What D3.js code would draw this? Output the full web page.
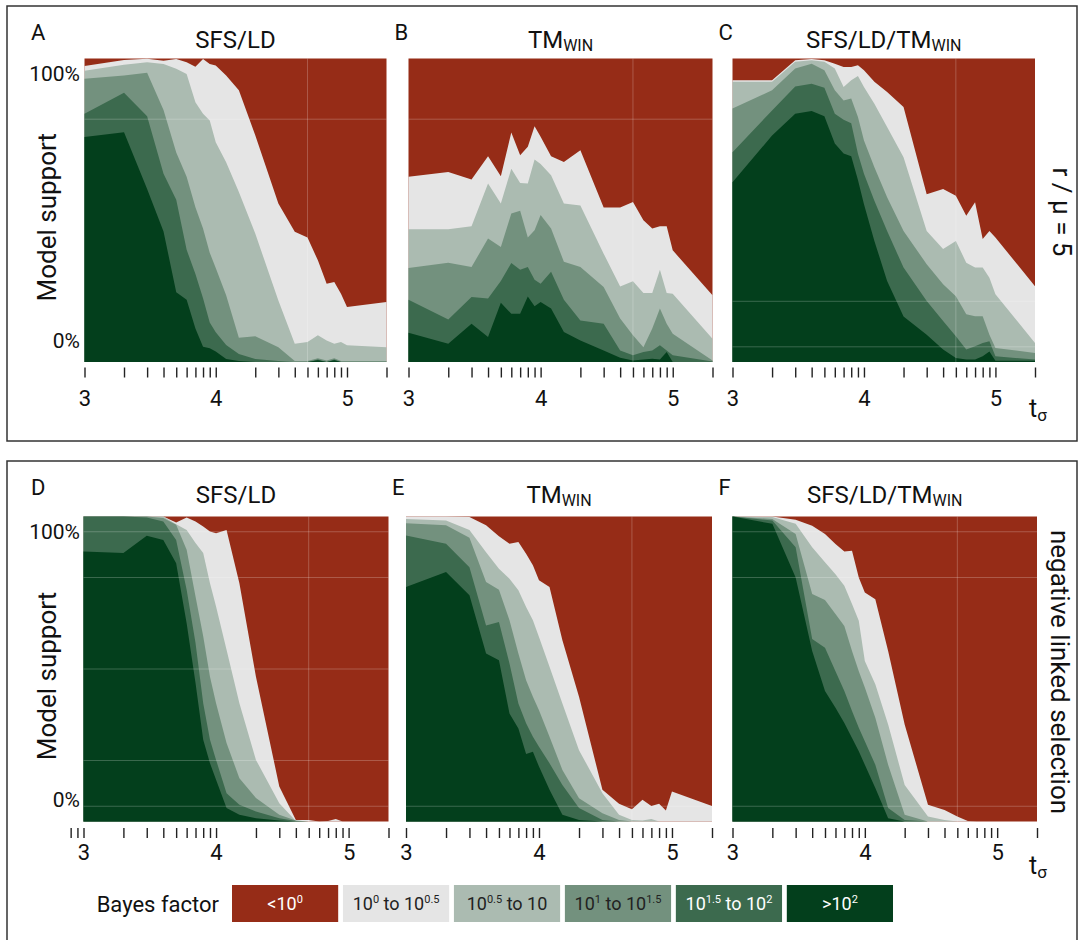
<!DOCTYPE html>
<html>
<head>
<meta charset="utf-8">
<script src="https://cdn.jsdelivr.net/npm/d3@7"></script>
<style>
  body { margin: 0; background: #fff; }
  svg { display: block; font-family: Roboto, "Noto Sans", sans-serif; }
</style>
</head>
<body>
<div id="chart"></div>
<script>
// t_sigma values where the model support was evaluated
const tSigma = [1000, 2000, 3000, 4000, 5000, 6000, 7000, 8000, 9000, 10000, 12000, 15000,
  20000, 30000, 40000, 50000, 60000, 70000, 80000, 90000, 100000, 200000];

// log ticks and the decade labels (log10 t_sigma)
const tickVals = [1000, 2000, 3000, 4000, 5000, 6000, 7000, 8000, 9000,
  10000, 20000, 30000, 40000, 50000, 60000, 70000, 80000, 90000, 100000, 200000];
const labelVals = [1000, 10000, 100000];
const labelText = ["3", "4", "5"];

// Bayes factor classes, bottom of the stack first
const bayesClasses = [">10^{2}", "10^{1.5} to 10^{2}", "10^{1} to 10^{1.5}", "10^{0.5} to 10", "10^{0} to 10^{0.5}", "<10^{0}"];
const classColors = ["#033f1c", "#3c6a4e", "#73917e", "#abbbb1", "#e5e5e5", "#962c17"];
const classText = ["#fff", "#fff", "#222", "#222", "#222", "#fff"];

// cumulative model support (%) : tops of >10^2, 10^1.5-10^2, 10^1-10^1.5, 10^0.5-10, 10^0-10^0.5
// (remaining share up to 100% is <10^0)
const supportA = [
  [74.1, 75.7, 57, 43, 23, 20.5, 11, 5, 4.5, 3.5, 1, 0.3, 0, 0, 0, 0, 0.6, 0, 0.6, 0, 0, 0],
  [81.8, 88.7, 81, 62, 53.5, 37, 29, 21, 13, 9.8, 5.6, 2.6, 1, 0.3, 0, 0, 0.8, 0, 0.8, 0, 0, 0],
  [93.3, 94.4, 95.3, 83, 69, 61, 51, 44, 36, 31, 22, 8, 8.5, 4.9, 0.3, 0.3, 1.2, 0.5, 1.2, 0.3, 0.3, 0.3],
  [96.0, 97.9, 98.8, 98.2, 96.6, 94.9, 85.6, 81.8, 79.6, 72.4, 65.8, 56, 42.3, 20.3, 6.0, 6.6, 8.8, 7.1, 6.0, 6.6, 5.5, 4.9],
  [97.5, 99.5, 99.9, 99.3, 99.8, 98.8, 97.3, 99.8, 98.2, 97.7, 94.4, 89.5, 74.7, 52.2, 42.9, 41.0, 33.5, 25.8, 26.4, 22.5, 18.1, 19.8]
];
const supportB = [
  [9.6, 6.0, 12.6, 8.2, 19.5, 15.9, 15.9, 21.6, 18.4, 19.8, 17.6, 9.9, 7.1, 3.8, 1.4, 0.5, 0.8, 1.1, 0.8, 3.3, 0, 0],
  [20.5, 14.0, 21.4, 20.9, 26.7, 32.6, 30.4, 31.3, 27.1, 25.8, 29.7, 20.5, 13.7, 12.6, 3.8, 2.2, 3.3, 3.8, 5.5, 3.8, 2.2, 0.2],
  [31.0, 32.7, 31.3, 40.7, 37.9, 48.9, 49.8, 41.0, 43.4, 48.4, 44.0, 33.0, 31.3, 24.7, 14.3, 8.8, 4.9, 11.0, 17.6, 12.6, 9.3, 0.5],
  [43.7, 43.7, 44.7, 58.8, 52.2, 63.7, 59.0, 58.8, 66.7, 65.2, 61.5, 52.2, 51.6, 35.7, 24.9, 26.6, 22.7, 22.7, 30.4, 22.7, 22.5, 7.7],
  [61.0, 62.6, 60.1, 67.8, 61.2, 75.6, 68.1, 70.9, 77.7, 74.2, 67.8, 65.9, 69.8, 50.9, 50.9, 52.7, 46.7, 44.0, 44.7, 44.7, 36.8, 22.0]
];
const supportC = [
  [59.2, 74.6, 81.8, 82.7, 81, 72, 68.7, 67.8, 60, 52, 39.9, 26.7, 15.0, 9.0, 4.1, 1.3, 0.8, 0.8, 1.9, 3.5, 0.4, 0.4],
  [69.1, 82.9, 90.8, 91.7, 90.4, 81.8, 79.8, 78.7, 68.6, 62.0, 53.1, 43.2, 31.1, 20.1, 13.5, 8.5, 4.1, 5.2, 6.3, 6.8, 1.9, 0.8],
  [83.5, 89.5, 96.7, 98.3, 96.1, 89.5, 86.2, 86.8, 80.7, 73.0, 64.2, 54.3, 43.2, 32.2, 25.6, 21.7, 15.7, 15.1, 15.1, 9.0, 4.6, 3.0],
  [92.3, 92.3, 98.9, 99.4, 98.9, 96.7, 90.6, 92.8, 94.2, 90.6, 85.1, 77.4, 67.5, 43.2, 37.2, 39.9, 32.7, 31.1, 31.1, 27.8, 22.3, 6.3],
  [92.8, 92.8, 99.4, 99.8, 99.4, 98.3, 97.2, 97.2, 97.8, 96.1, 92.3, 89.0, 84.0, 55.3, 57.0, 54.8, 48.2, 52.6, 40.5, 43.2, 41.0, 25.0]
];
const supportD = [
  [88.5, 88.0, 93.7, 92.3, 84.7, 65.0, 45.4, 26.8, 19.1, 13.7, 4.4, 2.2, 1.1, 0.3, 0, 0, 0, 0, 0, 0, 0, 0],
  [100, 100, 99.7, 98.4, 92.3, 76.0, 58.5, 38.8, 26.8, 20.2, 9.3, 5.5, 3.3, 1.1, 0.2, 0, 0, 0, 0, 0, 0, 0],
  [100, 100, 100, 99.5, 97.3, 89.1, 73.8, 60.7, 47.5, 38.8, 25.7, 14.2, 7.7, 2.2, 0.3, 0, 0, 0, 0, 0, 0, 0],
  [100, 100, 100, 100, 97.5, 95.6, 91.3, 88.0, 78.1, 70.5, 56.3, 38.8, 20.2, 6.0, 0.2, 0, 0, 0, 0, 0, 0, 0],
  [100, 100, 100, 100, 98.0, 99.7, 98.4, 96.7, 95.1, 94.5, 95.6, 78.1, 47.5, 11.5, 0.5, 0.5, 0, 0.2, 0.8, 0, 0, 0]
];
const supportE = [
  [76.9, 81.8, 74.2, 55.1, 52.9, 35.4, 30.5, 22.1, 22.9, 18.0, 10.4, 2.2, 0.5, 0, 0, 0, 0, 0, 0, 0, 0, 0],
  [93.8, 91.1, 83.4, 64.3, 65.4, 51.8, 38.7, 32.2, 27.8, 24.5, 19.1, 12.0, 4.4, 0.5, 0, 0, 0, 0, 0, 0, 0, 0],
  [97.8, 97.1, 93.0, 78.5, 76.0, 66.0, 55.1, 46.3, 40.9, 36.5, 27.8, 16.9, 7.6, 2.7, 0.5, 0, 0, 0, 0, 0, 0, 0],
  [99.2, 98.7, 95.6, 88.3, 82.9, 79.6, 75.8, 70.3, 66.0, 60.5, 50.7, 38.7, 23.4, 9.3, 2.2, 0.5, 0.3, 0.8, 0, 0, 0, 0],
  [100, 100, 99.8, 97.1, 93.5, 91.1, 91.6, 87.8, 84.0, 79.1, 76.9, 59.4, 40.9, 10.4, 5.8, 4.0, 7.1, 5.1, 5.8, 3.6, 9.8, 5.1]
];
const supportF = [
  [100, 97.6, 80.0, 55.9, 42.8, 37.3, 32.3, 27.4, 23.0, 18.6, 11.0, 1.1, 0, 0, 0, 0, 0, 0, 0, 0, 0, 0],
  [100, 98.7, 89.9, 59.8, 57.0, 49.3, 42.8, 36.2, 30.7, 26.3, 18.6, 4.4, 0.5, 0, 0, 0, 0, 0, 0, 0, 0, 0],
  [100, 99.2, 94.3, 74.6, 72.6, 68.0, 64.1, 55.9, 49.3, 43.9, 34.0, 18.6, 2.2, 0, 0, 0, 0, 0, 0, 0, 0, 0],
  [100, 99.8, 97.6, 89.9, 85.0, 81.1, 77.3, 71.3, 65.8, 52.6, 45.0, 31.8, 12.0, 1.6, 0.5, 0, 0, 0, 0, 0, 0, 0],
  [100, 100, 98.9, 97.0, 94.3, 91.0, 88.5, 88.8, 80.0, 75.1, 72.9, 55.9, 31.8, 5.5, 3.8, 1.6, 0.2, 0, 0, 0, 0, 0]
];

// faint grid lines that show through each panel (% support)
const gridA = [80], gridB = [80], gridC = [5, 20], gridD = [5, 20, 50, 80, 95], gridE = [5], gridF = [5, 80, 95];

const width = 1080, height = 940;
const svg = d3.select("#chart").append("svg")
  .attr("width", width)
  .attr("height", height);

// frames around the two rows
svg.append("rect").attr("x", 7).attr("y", 6).attr("width", 1070).attr("height", 435)
  .attr("fill", "none").attr("stroke", "#333").attr("stroke-width", 1.5);
svg.append("rect").attr("x", 7).attr("y", 461).attr("width", 1070).attr("height", 500)
  .attr("fill", "none").attr("stroke", "#333").attr("stroke-width", 1.5);

const panels = [
  { letter: "A", title: ["SFS/LD", ""], data: supportA, grid: gridA, x: 84.5, y: 58.5, w: 302, h: 303.5, row: 0 },
  { letter: "B", title: ["TM", "WIN"], data: supportB, grid: gridB, x: 408.5, y: 58.5, w: 304, h: 303.5, row: 0 },
  { letter: "C", title: ["SFS/LD/TM", "WIN"], data: supportC, grid: gridC, x: 732.5, y: 58.5, w: 302.5, h: 303.5, row: 0 },
  { letter: "D", title: ["SFS/LD", ""], data: supportD, grid: gridD, x: 83.5, y: 516.5, w: 305, h: 305, row: 1 },
  { letter: "E", title: ["TM", "WIN"], data: supportE, grid: gridE, x: 406, y: 516.5, w: 306, h: 305, row: 1 },
  { letter: "F", title: ["SFS/LD/TM", "WIN"], data: supportF, grid: gridF, x: 732.5, y: 516.5, w: 304.5, h: 305, row: 1 }
];

const rowStyle = [
  { letterY: 40, titleY: 48, tickGap: 5.5, labelPad: 12.5 },
  { letterY: 495, titleY: 503, tickGap: 6.5, labelPad: 6.5 }
];

panels.forEach(p => {
  const x = d3.scaleLog().domain([1000, 200000]).range([p.x, p.x + p.w]);
  const y = d3.scaleLinear().domain([0, 100]).range([p.y + p.h, p.y]);
  const g = svg.append("g");
  const rs = rowStyle[p.row];

  // background is the <10^0 class, then each cumulative layer painted from the top down
  g.append("rect").attr("x", x(1000)).attr("y", y(100))
    .attr("width", x(200000) - x(1000)).attr("height", y(0) - y(100))
    .attr("fill", classColors[5]);

  for (let i = 4; i >= 0; i--) {
    const area = d3.area()
      .x((d, j) => x(tSigma[j]))
      .y0(y(0))
      .y1(d => y(d));
    g.append("path")
      .datum(p.data[i])
      .attr("d", area)
      .attr("fill", classColors[i]);
  }

  // faint grid
  g.selectAll(".hgrid").data(p.grid).enter().append("line")
    .attr("x1", x(1000)).attr("x2", x(200000))
    .attr("y1", d => y(d)).attr("y2", d => y(d))
    .attr("stroke", "#fff").attr("stroke-opacity", 0.22).attr("stroke-width", 1);
  g.append("line")
    .attr("x1", x(50000)).attr("x2", x(50000))
    .attr("y1", y(0)).attr("y2", y(100))
    .attr("stroke", "#fff").attr("stroke-opacity", 0.22).attr("stroke-width", 1);

  // log ticks
  const ticks = p.letter === "D" ? [800, 900].concat(tickVals) : tickVals;
  const axis = g.append("g")
    .attr("transform", `translate(0,${p.y + p.h + rs.tickGap})`)
    .call(d3.axisBottom(x).tickValues(ticks).tickSize(10).tickPadding(rs.labelPad)
      .tickFormat(d => {
        const k = labelVals.indexOf(d);
        return k >= 0 ? labelText[k] : "";
      }));
  axis.select(".domain").remove();
  axis.selectAll(".tick line").attr("stroke", "#222").attr("stroke-width", 1.4);
  axis.selectAll(".tick text").filter(d => labelVals.indexOf(d) < 0).remove();
  axis.selectAll(".tick text").attr("fill", "#111").attr("font-size", 22)
    .attr("font-family", "Roboto, sans-serif");

  // panel letter and title
  svg.append("text")
    .attr("x", p.letter === "A" || p.letter === "D" ? 31 : p.x - 14)
    .attr("y", rs.letterY)
    .attr("font-size", 22).attr("fill", "#111")
    .text(p.letter);

  const t = svg.append("text")
    .attr("x", p.x + p.w / 2).attr("y", rs.titleY)
    .attr("text-anchor", "middle").attr("font-size", 24).attr("fill", "#111");
  t.append("tspan").text(p.title[0]);
  if (p.title[1]) t.append("tspan").attr("font-size", 16).attr("dy", 3).text(p.title[1]);

  // y labels only on the first column
  if (p.letter === "A" || p.letter === "D") {
    svg.append("text").attr("x", 80).attr("y", y(95))
      .attr("text-anchor", "end").attr("dominant-baseline", "central")
      .attr("font-size", 21).attr("fill", "#111").text("100%");
    svg.append("text").attr("x", 80).attr("y", y(7))
      .attr("text-anchor", "end").attr("dominant-baseline", "central")
      .attr("font-size", 21).attr("fill", "#111").text("0%");
    svg.append("text")
      .attr("transform", `translate(56,${p.y + p.h / 2 + 7}) rotate(-90)`)
      .attr("text-anchor", "middle").attr("font-size", 26).attr("fill", "#111")
      .text("Model support");
  }
});

// row labels on the right
svg.append("text")
  .attr("transform", "translate(1062,212) rotate(90)")
  .attr("text-anchor", "middle").attr("dominant-baseline", "central")
  .attr("font-size", 26).attr("fill", "#111")
  .text("r / \u03bc = 5");
svg.append("text")
  .attr("transform", "translate(1060,672) rotate(90)")
  .attr("text-anchor", "middle").attr("dominant-baseline", "central")
  .attr("font-size", 26).attr("fill", "#111")
  .text("negative linked selection");

// t_sigma axis titles
[417, 874].forEach(by => {
  const tt = svg.append("text").attr("x", 1029).attr("y", by)
    .attr("font-size", 25).attr("fill", "#111");
  tt.append("tspan").text("t");
  tt.append("tspan").attr("font-size", 17).attr("dy", 4).text("\u03c3");
});

// legend
svg.append("text").attr("x", 219).attr("y", 904)
  .attr("text-anchor", "end").attr("dominant-baseline", "central")
  .attr("font-size", 22).attr("fill", "#111").text("Bayes factor");

const legendOrder = [5, 4, 3, 2, 1, 0];
const legendX = d3.scaleBand().domain(legendOrder).range([232, 893]).paddingInner(0.043);
legendOrder.forEach(i => {
  const lx = legendX(i);
  svg.append("rect").attr("x", lx).attr("y", 885)
    .attr("width", legendX.bandwidth()).attr("height", 37)
    .attr("fill", classColors[i]);
  const lt = svg.append("text")
    .attr("x", lx + legendX.bandwidth() / 2).attr("y", 910)
    .attr("text-anchor", "middle").attr("font-size", 18).attr("fill", classText[i]);
  const parts = bayesClasses[i].split(/\^\{([^}]*)\}/);
  let shift = 0;
  parts.forEach((s, k) => {
    if (!s) return;
    if (k % 2 === 1) {
      lt.append("tspan").attr("font-size", 11).attr("dy", -7).text(s);
      shift = 7;
    } else {
      lt.append("tspan").attr("dy", shift).text(s);
      shift = 0;
    }
  });
});
</script>
</body>
</html>
